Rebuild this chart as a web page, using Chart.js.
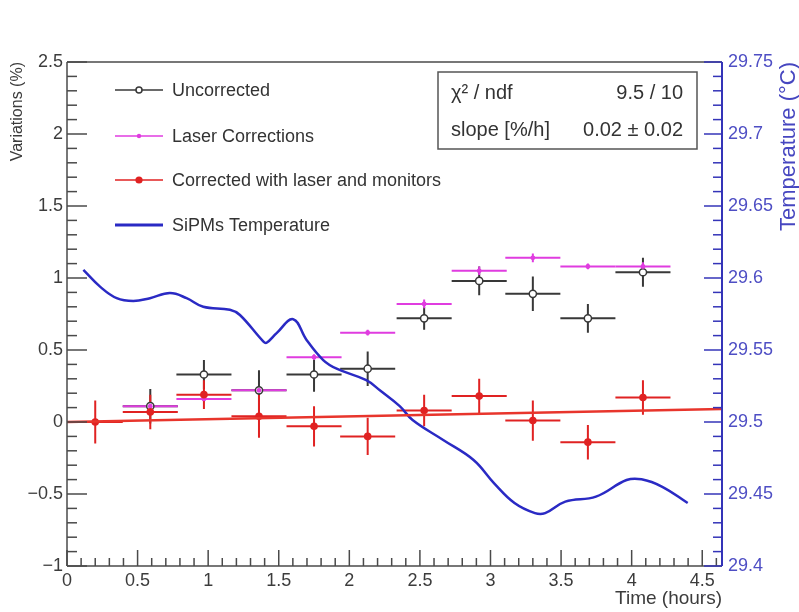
<!DOCTYPE html>
<html lang="en">
<head>
<meta charset="UTF-8">
<title>Variations vs time</title>
<style>
  html, body { margin: 0; padding: 0; background: #ffffff; }
  #wrap { width: 799px; height: 612px; }
</style>
</head>
<body>
<div id="wrap"><canvas id="varChart" width="799" height="612"></canvas></div>
<script src="https://cdn.jsdelivr.net/npm/chart.js@4.4.1/dist/chart.umd.min.js"></script>
<script>
// bin centres and half widths (hours)
const timeBins = [0.20, 0.59, 0.97, 1.36, 1.75, 2.13, 2.53, 2.92, 3.30, 3.69, 4.08];
const binHalfWidth = [0.195, 0.195, 0.195, 0.195, 0.195, 0.195, 0.195, 0.195, 0.195, 0.195, 0.195];

// variations (%)
const uncorrected = [null, 0.11, 0.33, 0.22, 0.33, 0.37, 0.72, 0.98, 0.89, 0.72, 1.04];
const uncorrectedErr = [0, 0.12, 0.10, 0.14, 0.12, 0.12, 0.08, 0.10, 0.12, 0.10, 0.10];
const laserCorr = [null, 0.11, 0.16, 0.22, 0.45, 0.62, 0.82, 1.05, 1.14, 1.08, 1.08];
const laserErr = [0, 0.02, 0.02, 0.02, 0.02, 0.02, 0.03, 0.03, 0.03, 0.02, 0.03];
const corrected = [0.00, 0.07, 0.19, 0.04, -0.03, -0.10, 0.08, 0.18, 0.01, -0.14, 0.17];
const correctedErr = [0.15, 0.12, 0.10, 0.15, 0.14, 0.13, 0.11, 0.12, 0.14, 0.12, 0.12];

// linear fit, end points
const fitTime = [0, 4.64];
const fitValue = [0.0, 0.09];

// SiPM temperature (°C)
const tempTime = [0.116, 0.234, 0.352, 0.47, 0.588, 0.729, 0.847, 0.965, 1.154, 1.225, 1.39, 1.414,
  1.485, 1.602, 1.697, 1.815, 1.91, 2.12, 2.216, 2.357, 2.448, 2.665, 2.88, 3.026, 3.17, 3.315,
  3.387, 3.53, 3.747, 3.964, 4.07, 4.217, 4.397];
const tempValue = [29.6056, 29.594, 29.586, 29.584, 29.586, 29.5895, 29.586, 29.580, 29.578, 29.5743,
  29.556, 29.555, 29.5617, 29.5714, 29.557, 29.543, 29.537, 29.529, 29.522, 29.511, 29.5014, 29.4875,
  29.4736, 29.4574, 29.4437, 29.4367, 29.4367, 29.4447, 29.4482, 29.4597, 29.4602, 29.455, 29.4437];

const seriesLabels = ['Uncorrected', 'Laser Corrections', 'Corrected with laser and monitors', 'SiPMs Temperature'];
const statsLabels = ['\u03c7\u00b2 / ndf', 'slope [%/h]'];
const statsValues = ['9.5 / 10', '0.02 \u00b1 0.02'];
const xTitle = 'Time (hours)';
const yTitle = 'Variations (%)';
const y2Title = 'Temperature (\u00b0C)';

const colBlack = '#383838';
const colMagenta = '#e03ce0';
const colRed = '#e02222';
const colBlue = '#2a2ac4';
const font = '"Liberation Sans", Arial, sans-serif';

function pts(xs, ys) {
    return xs.map((x, i) => ({ x: x, y: ys[i] })).filter(p => p.y !== null);
}

function fmt(v) {
    const s = String(Math.round(v * 100) / 100);
    return s.replace('-', '\u2212');
}

const errorBars = {
    id: 'errorBars',
    beforeDatasetsDraw(chart) {
        const ctx = chart.ctx;
        const xs = chart.scales.x, ys = chart.scales.y;
        const sets = [
            [uncorrected, uncorrectedErr, colBlack],
            [laserCorr, laserErr, colMagenta],
            [corrected, correctedErr, colRed]
        ];
        ctx.save();
        ctx.lineWidth = 2;
        sets.forEach(([vals, errs, col]) => {
            ctx.strokeStyle = col;
            vals.forEach((v, i) => {
                if (v === null) return;
                const py = ys.getPixelForValue(v);
                const px = xs.getPixelForValue(timeBins[i]);
                ctx.beginPath();
                ctx.moveTo(xs.getPixelForValue(timeBins[i] - binHalfWidth[i]), py);
                ctx.lineTo(xs.getPixelForValue(timeBins[i] + binHalfWidth[i]), py);
                ctx.moveTo(px, ys.getPixelForValue(v - errs[i]));
                ctx.lineTo(px, ys.getPixelForValue(v + errs[i]));
                ctx.stroke();
            });
        });
        ctx.restore();
    }
};

function line(ctx, x1, y1, x2, y2) {
    ctx.beginPath();
    ctx.moveTo(x1, y1);
    ctx.lineTo(x2, y2);
    ctx.stroke();
}

const frameTicks = {
    id: 'frameTicks',
    afterDatasetsDraw(chart) {
        const ctx = chart.ctx;
        const { left, right, top, bottom } = chart.chartArea;
        const xs = chart.scales.x, ys = chart.scales.y, y2 = chart.scales.y2;
        ctx.save();
        ctx.strokeStyle = '#4a4a4a';
        ctx.lineWidth = 1.5;
        line(ctx, left, top, right, top);
        line(ctx, left, top, left, bottom);
        line(ctx, left, bottom, right, bottom);
        // left axis ticks, inward
        for (let k = -10; k <= 25; k++) {
            const py = ys.getPixelForValue(k / 10);
            line(ctx, left, py, left + (k % 5 === 0 ? 20 : 10), py);
        }
        // bottom axis ticks
        for (let k = 0; k <= 46; k++) {
            const px = xs.getPixelForValue(k / 10);
            line(ctx, px, bottom, px, bottom - (k % 5 === 0 ? 16 : 8));
        }
        // right axis in blue
        ctx.strokeStyle = '#3434b8';
        ctx.lineWidth = 2;
        line(ctx, right, top, right, bottom);
        ctx.lineWidth = 1.5;
        for (let k = 0; k <= 35; k++) {
            const py = y2.getPixelForValue(29.4 + k / 100);
            line(ctx, right, py, right - (k % 5 === 0 ? 18 : 9), py);
        }
        ctx.restore();
    },
    afterDraw(chart) {
        const ctx = chart.ctx;
        const { top } = chart.chartArea;
        ctx.save();
        // right axis title, reads bottom to top
        ctx.translate(789, top);
        ctx.rotate(-Math.PI / 2);
        ctx.font = '22px ' + font;
        ctx.fillStyle = '#4646c0';
        ctx.textAlign = 'right';
        ctx.textBaseline = 'middle';
        ctx.fillText(y2Title, 0, 0);
        ctx.restore();

        // legend
        ctx.save();
        const rows = [90, 136, 180, 225];
        const lx1 = 115, lx2 = 163, mx = 139;
        ctx.font = '18px ' + font;
        ctx.textBaseline = 'middle';
        rows.forEach((yy, i) => {
            ctx.lineWidth = i === 3 ? 3 : 1.5;
            ctx.strokeStyle = [colBlack, colMagenta, colRed, colBlue][i];
            line(ctx, lx1, yy, lx2, yy);
            if (i === 0) {
                ctx.beginPath(); ctx.arc(mx, yy, 3, 0, Math.PI * 2);
                ctx.fillStyle = '#ffffff'; ctx.fill(); ctx.stroke();
            } else if (i === 1) {
                ctx.beginPath(); ctx.arc(mx, yy, 2.2, 0, Math.PI * 2);
                ctx.fillStyle = colMagenta; ctx.fill();
            } else if (i === 2) {
                ctx.beginPath(); ctx.arc(mx, yy, 3.6, 0, Math.PI * 2);
                ctx.fillStyle = colRed; ctx.fill();
            }
            ctx.fillStyle = '#333333';
            ctx.fillText(seriesLabels[i], 172, yy + 1);
        });
        ctx.restore();

        // stats box
        ctx.save();
        ctx.strokeStyle = '#555555';
        ctx.lineWidth = 1.5;
        ctx.strokeRect(438, 72, 259, 77);
        ctx.font = '20px ' + font;
        ctx.fillStyle = '#333333';
        ctx.textBaseline = 'middle';
        ctx.textAlign = 'left';
        ctx.fillText(statsLabels[0], 451, 93);
        ctx.fillText(statsLabels[1], 451, 130);
        ctx.textAlign = 'right';
        ctx.fillText(statsValues[0], 683, 93);
        ctx.fillText(statsValues[1], 683, 130);
        ctx.restore();
    }
};

const ctx = document.getElementById('varChart').getContext('2d');

new Chart(ctx, {
    type: 'scatter',
    data: {
        datasets: [
            {
                label: 'fit',
                type: 'line',
                data: pts(fitTime, fitValue),
                borderColor: '#e8352c',
                borderWidth: 2.5,
                pointRadius: 0,
                yAxisID: 'y',
                order: 0
            },
            {
                label: seriesLabels[2],
                data: pts(timeBins, corrected),
                pointRadius: 3.8,
                pointBackgroundColor: colRed,
                pointBorderColor: colRed,
                pointBorderWidth: 0,
                yAxisID: 'y',
                order: 1
            },
            {
                label: seriesLabels[1],
                data: pts(timeBins, laserCorr),
                pointRadius: 2.4,
                pointBackgroundColor: colMagenta,
                pointBorderColor: colMagenta,
                pointBorderWidth: 0,
                yAxisID: 'y',
                order: 2
            },
            {
                label: seriesLabels[0],
                data: pts(timeBins, uncorrected),
                pointRadius: 3.6,
                pointBackgroundColor: '#ffffff',
                pointBorderColor: colBlack,
                pointBorderWidth: 1.5,
                yAxisID: 'y',
                order: 3
            },
            {
                label: seriesLabels[3],
                type: 'line',
                data: pts(tempTime, tempValue),
                borderColor: colBlue,
                borderWidth: 2.5,
                pointRadius: 0,
                tension: 0.4,
                yAxisID: 'y2',
                order: 4
            }
        ]
    },
    options: {
        responsive: false,
        animation: false,
        layout: { padding: { top: 62, left: 0, right: 0, bottom: 0 } },
        plugins: {
            legend: { display: false },
            tooltip: { enabled: false }
        },
        scales: {
            x: {
                type: 'linear',
                min: 0,
                max: 4.64,
                afterFit: s => { s.height = 46; },
                grid: { display: false, drawTicks: false },
                border: { display: false },
                ticks: {
                    stepSize: 0.5,
                    includeBounds: false,
                    autoSkip: false,
                    maxRotation: 0,
                    padding: 4,
                    color: '#3c3c3c',
                    font: { family: font, size: 18 },
                    callback: v => fmt(v)
                },
                title: {
                    display: true,
                    text: xTitle,
                    align: 'end',
                    color: '#3c3c3c',
                    font: { family: font, size: 19 },
                    padding: { top: 0, bottom: 2 }
                }
            },
            y: {
                position: 'left',
                min: -1,
                max: 2.5,
                afterFit: s => { s.width = 67; },
                grid: { display: false, drawTicks: false },
                border: { display: false },
                ticks: {
                    stepSize: 0.5,
                    padding: 4,
                    color: '#3c3c3c',
                    font: { family: font, size: 18 },
                    callback: v => fmt(v)
                },
                title: {
                    display: true,
                    text: yTitle,
                    align: 'end',
                    color: '#3c3c3c',
                    font: { family: font, size: 16, lineHeight: 1.2 },
                    padding: { top: 8, bottom: 0 }
                }
            },
            y2: {
                position: 'right',
                min: 29.4,
                max: 29.75,
                afterFit: s => { s.width = 77; },
                grid: { display: false, drawTicks: false },
                border: { display: false },
                ticks: {
                    stepSize: 0.05,
                    padding: 6,
                    color: '#4e4ec4',
                    font: { family: font, size: 18 },
                    callback: v => fmt(v)
                }
            }
        }
    },
    plugins: [errorBars, frameTicks]
});
</script>
</body>
</html>
